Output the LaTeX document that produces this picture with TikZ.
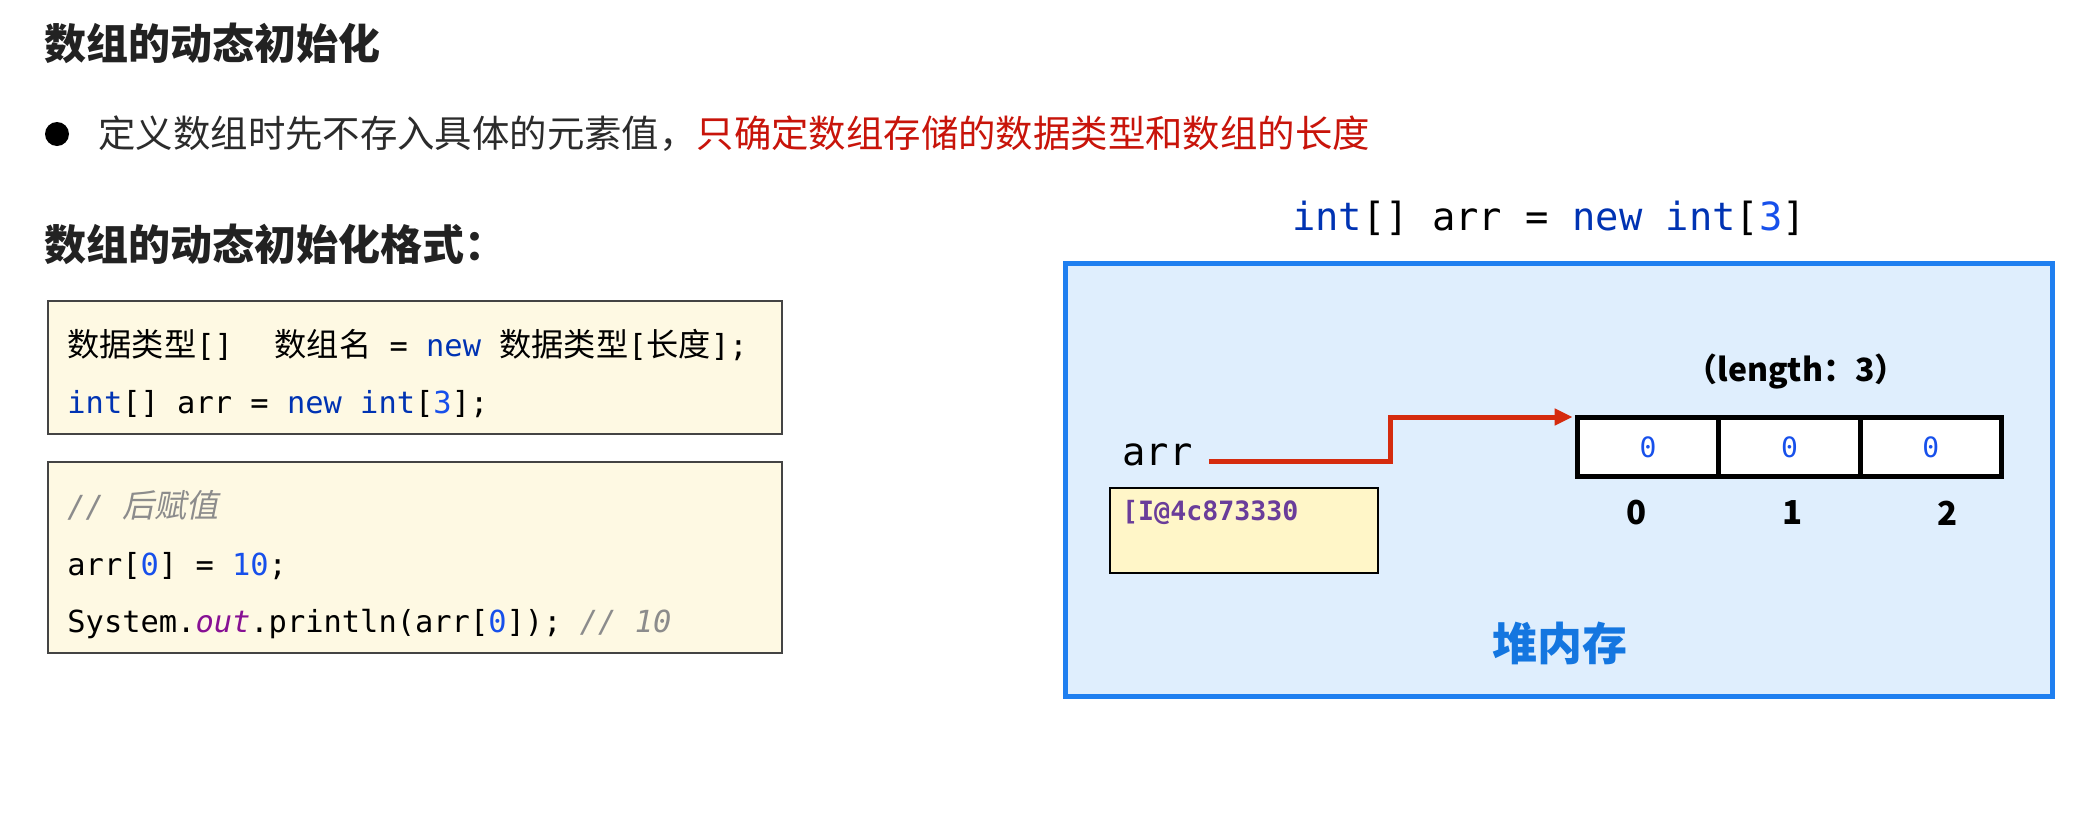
\documentclass[tikz,border=0pt]{standalone}
\usepackage{fontspec}
\setmainfont{Noto Sans CJK SC}
\newfontfamily\cjk{Noto Sans CJK SC}[Scale=1.06]
\newfontfamily\cjkit{Noto Sans CJK SC}[FakeSlant=0.2,Scale=1.06]
\setmonofont{DejaVu Sans Mono}
\usetikzlibrary{matrix,positioning,arrows.meta}

\definecolor{titlegray}{HTML}{222222}
\definecolor{textgray}{HTML}{2B2B2B}
\definecolor{alertred}{HTML}{C8140A}
\definecolor{kwblue}{HTML}{0033B3}
\definecolor{numblue}{HTML}{1750EB}
\definecolor{cmtgray}{HTML}{8C8C8C}
\definecolor{fieldpurple}{HTML}{871094}
\definecolor{codebg}{HTML}{FEF9E3}
\definecolor{boxgray}{HTML}{444444}
\definecolor{heapblue}{HTML}{1F7FF0}
\definecolor{heapbg}{HTML}{DFEEFD}
\definecolor{heaptext}{HTML}{1476E0}
\definecolor{refred}{HTML}{D52B0E}
\definecolor{addrbg}{HTML}{FFF6C8}
\definecolor{addrpurple}{HTML}{6A3D9A}

\newcommand{\kwd}[1]{\textcolor{kwblue}{#1}}
\newcommand{\numb}[1]{\textcolor{numblue}{#1}}
\newcommand{\cmnt}[1]{\textcolor{cmtgray}{\itshape #1}}

\begin{document}
\begin{tikzpicture}[x=0.5pt,y=-0.5pt,
	txt/.style={inner sep=0pt,anchor=west},
	heading/.style={txt,font=\fontsize{21}{25}\selectfont\bfseries,text=titlegray},
	codebox/.style={draw=boxgray,line width=0.8pt,fill=codebg,minimum width=367pt},
	codeline/.style={txt,font=\fontsize{15.2}{18}\selectfont\ttfamily},
	cellbox/.style={draw=black,line width=2.4pt,fill=white,minimum width=70.7pt,minimum height=29.5pt,inner sep=0pt,font=\fontsize{14}{16}\selectfont\ttfamily,text=numblue},
	idxlabel/.style={font=\fontsize{16.5}{19}\selectfont\bfseries,inner sep=0pt},
	refarrow/.style={draw=refred,line width=2.5pt,-{Triangle[length=9pt,width=8pt]},shorten >=1pt}]
	\useasboundingbox (0,0) rectangle (2100,825);
	\fill[white] (0,0) rectangle (2100,825);

	% left column
	\node[heading] (title) at (44,43) {数组的动态初始化};
	\node[circle,fill=black,inner sep=0pt,minimum size=12pt] (dot) at (57,134) {};
	\node[txt,font=\fontsize{18.7}{22}\selectfont,text=textgray] (bullettext) at (98,134) {定义数组时先不存入具体的元素值，\textcolor{alertred}{只确定数组存储的数据类型和数组的长度}};
	\node[heading] (subtitle) at (44,244) {数组的动态初始化格式：};

	\node[codebox,minimum height=66.5pt] (codeA) at (415,367.5) {};
	\node[codeline] (declfmt) at (67,345) {{\cjk 数据类型}[]\ \ \,{\cjk 数组名} = \kwd{new} {\cjk 数据类型}[{\cjk 长度}];};
	\node[codeline] (declarr) at (67,404) {\kwd{int}[] arr = \kwd{new} \kwd{int}[\numb{3}];};

	\node[codebox,minimum height=95.5pt] (codeB) at (415,557.5) {};
	\node[codeline] (cmtline) at (67,505) {\cmnt{// {\cjkit 后赋值}}};
	\node[codeline] (assign) at (67,566) {arr[\numb{0}] = \numb{10};};
	\node[codeline] (printline) at (67,624) {System.\textcolor{fieldpurple}{\itshape out}.println(arr[\numb{0}]); \cmnt{// 10}};

	% heap
	\node[font=\fontsize{19.4}{23}\selectfont\ttfamily] (heaphead) at (1549,218) {\kwd{int}[] arr = \kwd{new} \kwd{int}[\numb{3}]};
	\node[draw=heapblue,line width=2.5pt,fill=heapbg,minimum width=493.5pt,minimum height=216.5pt] (heap) at (1559,480) {};

	\node[font=\fontsize{16}{19}\selectfont\bfseries] (lenlabel) at (1796,372) {（length：3）};
	\matrix (cells) [matrix of nodes,nodes={cellbox},column sep=-2.4pt,inner sep=0pt] at (1789.5,447) {
		0 & 0 & 0 \\
	};
	\foreach \i/\n/\dx in {1/0/-6pt,2/1/1.5pt,3/2/8.5pt}
		\node[idxlabel] (idx\i) at ([xshift=\dx,yshift=-17pt]cells-1-\i.south) {\n};

	\node[txt,font=\fontsize{19.4}{23}\selectfont\ttfamily] (arr) at (1122,455) {arr};
	\node[draw=black,line width=1.2pt,fill=addrbg,minimum width=134pt,minimum height=42.5pt] (addr) at (1244,530.5) {};
	\node[txt,font=\fontsize{13.3}{16}\selectfont\ttfamily\bfseries,text=addrpurple] (addrval) at ([xshift=6.5pt,yshift=-13pt]addr.north west) {[I@4c873330};

	\coordinate (bend) at (1390,417);
	\draw[refarrow] ([xshift=8pt,yshift=-3pt]arr.east) -| (bend) -- (bend -| cells.west);

	\node[font=\fontsize{22.5}{26}\selectfont\bfseries,text=heaptext] (heaplbl) at (1560,643) {堆内存};
\end{tikzpicture}
\end{document}
